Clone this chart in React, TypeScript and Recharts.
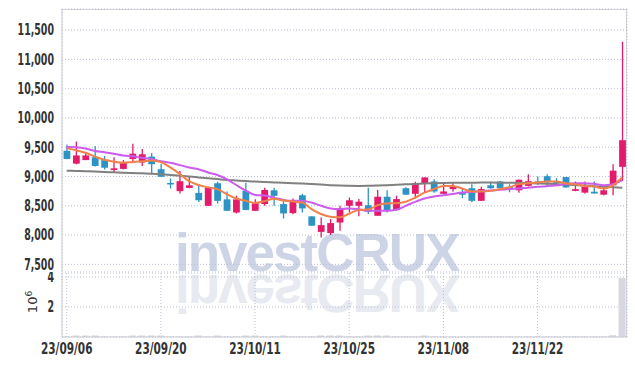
import {
  ComposedChart,
  Bar,
  Line,
  XAxis,
  YAxis,
  CartesianGrid,
} from "recharts";

const UP = "#e41b6b";
const DOWN = "#2d93c5";
const TICK_FONT = "'Liberation Sans Narrow', 'DejaVu Sans Condensed', sans-serif";

const dates = [
  "23/09/06", "23/09/07", "23/09/08", "23/09/11", "23/09/12", "23/09/13", "23/09/14", "23/09/15", "23/09/18", "23/09/19",
  "23/09/20", "23/09/21", "23/09/22", "23/09/25", "23/09/26", "23/09/27", "23/10/04", "23/10/05", "23/10/06", "23/10/10",
  "23/10/11", "23/10/12", "23/10/13", "23/10/16", "23/10/17", "23/10/18", "23/10/19", "23/10/20", "23/10/23", "23/10/24",
  "23/10/25", "23/10/26", "23/10/27", "23/10/30", "23/10/31", "23/11/01", "23/11/02", "23/11/03", "23/11/06", "23/11/07",
  "23/11/08", "23/11/09", "23/11/10", "23/11/13", "23/11/14", "23/11/15", "23/11/16", "23/11/17", "23/11/20", "23/11/21",
  "23/11/22", "23/11/23", "23/11/24", "23/11/27", "23/11/28", "23/11/29", "23/11/30", "23/12/01", "23/12/04", "23/12/05",
];

const opens = [
  9440, 9220, 9280, 9330, 9280, 9110, 9130, 9300, 9240, 9340,
  9125, 8890, 8750, 8805, 8720, 8500, 8885, 8610, 8385, 8755,
  8415, 8530, 8765, 8530, 8375, 8680, 8320, 8055, 8035, 8215,
  8500, 8500, 8510, 8330, 8655, 8430, 8800, 8705, 8885, 8915,
  8705, 8785, 8725, 8800, 8585, 8850, 8915, 8825, 8765, 8840,
  8915, 9005, 8915, 8990, 8755, 8725, 8740, 8690, 8850, 9165,
];
const highs = [
  9545, 9600, 9420, 9520, 9350, 9330, 9280, 9560, 9470, 9400,
  9220, 8965, 9095, 9010, 8870, 8830, 8910, 8745, 8670, 8895,
  8610, 8810, 8810, 8615, 8625, 8705, 8320, 8300, 8275, 8500,
  8640, 8615, 8810, 8770, 8765, 8670, 8815, 8910, 8985, 8955,
  8885, 8905, 8795, 8870, 8825, 8910, 8920, 8870, 8950, 9040,
  9000, 9040, 8970, 8990, 8915, 8915, 8915, 8840, 9210, 11300,
];
const lows = [
  9295, 9210, 9280, 9170, 9120, 9060, 9120, 9240, 9180, 9040,
  8990, 8795, 8710, 8800, 8565, 8495, 8540, 8410, 8370, 8425,
  8410, 8500, 8500, 8285, 8355, 8385, 8160, 7960, 8000, 8075,
  8385, 8320, 8360, 8330, 8385, 8420, 8685, 8625, 8725, 8725,
  8700, 8740, 8630, 8565, 8580, 8790, 8795, 8730, 8725, 8830,
  8860, 8840, 8840, 8810, 8750, 8710, 8710, 8680, 8680, 8925,
];
const closes = [
  9300, 9360, 9360, 9180, 9150, 9140, 9230, 9390, 9380, 9210,
  8995, 8865, 8920, 8850, 8595, 8805, 8585, 8415, 8610, 8430,
  8545, 8770, 8670, 8370, 8570, 8455, 8160, 8170, 8205, 8455,
  8595, 8570, 8400, 8655, 8415, 8615, 8690, 8885, 8985, 8745,
  8745, 8825, 8690, 8585, 8785, 8800, 8800, 8795, 8945, 8920,
  8880, 8900, 8885, 8815, 8785, 8825, 8710, 8765, 9100, 9620,
];

const ma5 = [
  9485, 9450, 9405, 9340, 9285, 9255, 9235, 9245, 9260, 9275,
  9245, 9155, 9045, 8920, 8855, 8815, 8785, 8700, 8625, 8585,
  8550, 8580, 8620, 8590, 8575, 8555, 8445, 8360, 8315, 8305,
  8365, 8430, 8435, 8510, 8540, 8545, 8570, 8640, 8725, 8785,
  8840, 8840, 8795, 8745, 8745, 8755, 8785, 8815, 8870, 8885,
  8900, 8915, 8915, 8885, 8870, 8840, 8830, 8795, 8850, 8990,
];
const ma20 = [
  9505, 9500, 9480, 9435, 9415, 9390, 9360, 9345, 9320, 9300,
  9260, 9235, 9195, 9155, 9125, 9070, 9025, 8955, 8855, 8760,
  8685, 8675, 8640, 8600, 8585, 8585, 8555, 8500, 8455, 8443,
  8455, 8443, 8415, 8415, 8415, 8432, 8500, 8568, 8625, 8660,
  8682, 8702, 8727, 8740, 8750, 8762, 8773, 8785, 8796, 8808,
  8826, 8836, 8850, 8872, 8884, 8886, 8875, 8852, 8868, 8938,
];
const ma120 = [
  9100, 9095, 9090, 9084, 9078, 9072, 9066, 9060, 9054, 9048,
  9040, 9028, 9014, 9000, 8985, 8970, 8956, 8942, 8932, 8922,
  8914, 8906, 8899, 8892, 8886, 8879, 8871, 8862, 8853, 8846,
  8842, 8840, 8842, 8846, 8852, 8860, 8867, 8874, 8880, 8885,
  8889, 8892, 8894, 8895, 8896, 8896, 8895, 8893, 8890, 8886,
  8882, 8877, 8870, 8862, 8854, 8845, 8836, 8827, 8818, 8810,
];

const volumes = [
  30000, 100000, 100000, 100000, 30000, 30000, 30000, 100000, 100000, 100000,
  100000, 30000, 30000, 30000, 100000, 30000, 100000, 30000, 30000, 100000,
  100000, 30000, 30000, 100000, 30000, 30000, 30000, 100000, 100000, 100000,
  30000, 30000, 100000, 100000, 100000, 30000, 30000, 30000, 100000, 30000,
  30000, 30000, 30000, 30000, 30000, 30000, 30000, 30000, 30000, 30000,
  30000, 30000, 30000, 30000, 30000, 30000, 30000, 30000, 120000, 3930000,
];

const priceTicks = [7500, 8000, 8500, 9000, 9500, 10000, 10500, 11000, 11500];
const volumeTicks = [2000000, 4000000];

const data = dates.map((date, i) => ({
  date,
  open: opens[i],
  high: highs[i],
  low: lows[i],
  close: closes[i],
  ma5: ma5[i],
  ma20: ma20[i],
  ma120: ma120[i],
  vol: volumes[i],
}));

// narrow bold tick text, squeezed to match the condensed face of the original
function NarrowTick(props: any) {
  const { x, y, payload, textAnchor, dy, fmt, sx = 0.78 } = props;
  const label = fmt ? fmt(payload.value) : payload.value;
  return (
    <text
      transform={`translate(${x},${y}) scale(${sx},1)`}
      textAnchor={textAnchor}
      dy={dy}
      fontFamily={TICK_FONT}
      fontSize={15}
      fontWeight={700}
      fill="#333"
    >
      {label}
    </text>
  );
}

function Candle(props: any) {
  const { x, y, width, height, payload } = props;
  if (x == null || y == null) return null;
  const { open, close, high, low } = payload;
  const color = close >= open ? UP : DOWN;
  const top = Math.min(y, y + height);
  const h = Math.abs(height);
  const k = h / (high - low || 1);
  const cx = x + width / 2;
  const bTop = top + (high - Math.max(open, close)) * k;
  const bBot = top + (high - Math.min(open, close)) * k;
  return (
    <g>
      <line x1={cx} x2={cx} y1={top} y2={top + h} stroke={color} strokeWidth={1.3} />
      <rect x={cx - 3.4} y={bTop} width={6.8} height={Math.max(bBot - bTop, 1.5)} fill={color} />
    </g>
  );
}

function VolumeUnit(props: any) {
  const vb = props.viewBox || { x: 0, y: 0, width: 62, height: 64 };
  return (
    <text
      transform={`translate(${vb.x + 37},${vb.y + 29}) rotate(-90)`}
      textAnchor="middle"
      fontFamily="'DejaVu Sans', sans-serif"
      fontSize={13}
      fill="#333"
    >
      10<tspan dy={-5} fontSize={9}>6</tspan>
    </text>
  );
}

export default function App() {
  return (
    <div style={{ position: "absolute", left: 0, top: 0, width: 635, height: 366, background: "#fff" }}>
      <svg width={635} height={366} style={{ position: "absolute", left: 0, top: 0 }}>
        <text x={175} y={271} fontFamily="'Liberation Sans', Arial, sans-serif" fontWeight={700} fontSize={53} letterSpacing={-2} fill="#cdd4e6">
          investCRUX
        </text>
        <text
          x={175}
          y={271}
          transform="translate(0,546) scale(1,-1)"
          fontFamily="'Liberation Sans', Arial, sans-serif"
          fontWeight={700}
          fontSize={53}
          letterSpacing={-2}
          fill="#e8eaf1"
        >
          investCRUX
        </text>
      </svg>
      <div
        style={{
          position: "absolute",
          left: 62,
          top: 9,
          width: 565,
          height: 328,
          boxSizing: "border-box",
          borderTop: "1px solid #d2d4dc",
          borderRight: "1px solid #d2d4dc",
        }}
      />
      <div style={{ position: "absolute", left: 0, top: 0 }}>
        <ComposedChart width={635} height={272} data={data} margin={{ top: 9, right: 8, bottom: 0, left: 0 }}>
          <CartesianGrid stroke="#b9bfd6" strokeDasharray="1 2" />
          <XAxis dataKey="date" interval={9} tick={false} tickLine={false} height={0} axisLine={{ stroke: "#c9cbd3" }} />
          <YAxis
            width={62}
            domain={[7370, 11860]}
            ticks={priceTicks}
            interval={0}
            tick={<NarrowTick dy="0.355em" sx={0.7} fmt={(v: number) => v.toLocaleString("en-US")} />}
            tickLine={false}
            axisLine={{ stroke: "#c9cbd3" }}
            allowDataOverflow
          />
          <Bar dataKey={(d: any) => [d.low, d.high]} shape={<Candle />} isAnimationActive={false} />
          <Line type="monotone" dataKey="ma120" stroke="#808080" strokeWidth={2} dot={false} isAnimationActive={false} />
          <Line type="monotone" dataKey="ma20" stroke="#cc5bee" strokeWidth={2} dot={false} isAnimationActive={false} />
          <Line type="monotone" dataKey="ma5" stroke="#f0814a" strokeWidth={2} dot={false} isAnimationActive={false} />
        </ComposedChart>
      </div>
      <div style={{ position: "absolute", left: 0, top: 272 }}>
        <ComposedChart width={635} height={94} data={data} barCategoryGap={1} margin={{ top: 1, right: 8, bottom: 0, left: 0 }}>
          <CartesianGrid stroke="#b9bfd6" strokeDasharray="1 2" />
          <XAxis
            dataKey="date"
            interval={9}
            tick={<NarrowTick dy="0.71em" sx={0.78} />}
            tickLine={false}
            tickMargin={0}
            height={29}
            axisLine={{ stroke: "#c9cbd3" }}
          />
          <YAxis
            width={62}
            domain={[0, 4270000]}
            ticks={volumeTicks}
            interval={0}
            tick={<NarrowTick dy="0.355em" sx={0.7} fmt={(v: number) => String(v / 1000000)} />}
            tickLine={false}
            axisLine={{ stroke: "#c9cbd3" }}
            label={<VolumeUnit />}
          />
          <Bar dataKey="vol" fill="#d6d7df" isAnimationActive={false} />
        </ComposedChart>
      </div>
    </div>
  );
}
